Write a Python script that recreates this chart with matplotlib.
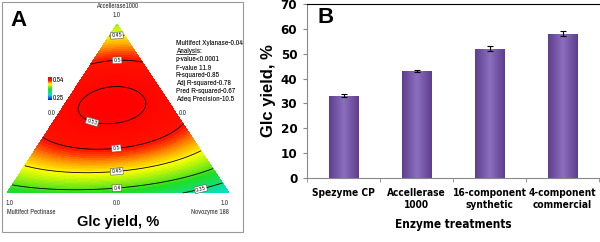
import numpy as np
import matplotlib
matplotlib.use("Agg")
import matplotlib.pyplot as plt
import matplotlib.tri as mtri
from matplotlib.colors import LinearSegmentedColormap
from matplotlib.patches import Rectangle

# ---- panel A: mixture model (Accellerase, Pectinase, Novozyme) ----
lin_coef = [0.42, 0.375, 0.31]         # pure blends: top, left, right
bin_coef = [0.50, 0.60, 0.16]          # top-left, top-right, left-right
tern_coef = 0.23
levels = [0.35, 0.40, 0.45, 0.50, 0.53]
zmin, zmax = 0.25, 0.54
stats = ["Multifect Xylanase-0.04", "Analysis:", "p-value<0.0001", "F-value 11.9",
         "R-squared-0.85", "Adj R-squared-0.78", "Pred R-squared-0.67",
         "Adeq Precision-10.5"]

# ---- panel B: bars ----
treatments = ["Spezyme CP", "Accellerase\n1000", "16-component\nsynthetic",
              "4-component\ncommercial"]
glc = [33.0, 43.1, 52.0, 58.1]
glc_err = [0.6, 0.4, 1.0, 1.0]

narrow = ["Archivo Narrow", "DejaVu Sans"]
sans = ["Liberation Sans", "DejaVu Sans"]
cond_bold = dict(family="DejaVu Sans", fontstretch="condensed", fontweight="bold")

fig = plt.figure(figsize=(6.0, 2.42), dpi=100)

# left panel drawn in pixel coordinates
ax = fig.add_axes([0, 0, 245 / 600, 1])
ax.set_xlim(0, 245)
ax.set_ylim(242, 0)
ax.axis("off")
ax.add_patch(Rectangle((2, 2), 241, 230, fill=False, ec="#999999", lw=0.8))

top, left, right = (117, 24), (7, 193), (229, 193)
n = 150
A, B = [], []
for i in range(n + 1):
    for j in range(n + 1 - i):
        A.append(i / n)
        B.append(j / n)
A = np.array(A)
B = np.array(B)
C = 1 - A - B
z = (lin_coef[0] * A + lin_coef[1] * B + lin_coef[2] * C
     + bin_coef[0] * A * B + bin_coef[1] * A * C + bin_coef[2] * B * C
     + tern_coef * A * B * C)
px = A * top[0] + B * left[0] + C * right[0]
py = A * top[1] + B * left[1] + C * right[1]
tri = mtri.Triangulation(px, py)

stops = [0.25, 0.31, 0.39, 0.45, 0.475, 0.498, 0.54]
cols = ["#1010ff", "#00e0e0", "#22dd22", "#ffff00", "#ff9900", "#ff1500", "#ff0000"]
cmap = LinearSegmentedColormap.from_list(
    "de", [((s - zmin) / (zmax - zmin), c) for s, c in zip(stops, cols)])
ax.tricontourf(tri, z, levels=np.linspace(min(z.min(), zmin), max(z.max(), zmax), 80),
               cmap=cmap, vmin=zmin, vmax=zmax)
cs = ax.tricontour(tri, z, levels=levels, colors="black", linewidths=0.6)
lab_pos = [(200, 186), (117, 189), (117, 174), (117, 57), (117, 155), (93, 119), (117, 38)]
labels = ax.clabel(cs, manual=lab_pos, fontsize=3.5, inline=False,
                   fmt=lambda v: ("%.2f" % v).rstrip("0"))
for t in labels:
    t.set_bbox(dict(facecolor="white", edgecolor="#555555", lw=0.4, pad=0.6))

# colour key
key = np.linspace(zmax, zmin, 50).reshape(-1, 1)
ax.imshow(key, cmap=cmap, extent=(48, 52, 100, 77), aspect="auto",
          vmin=zmin, vmax=zmax)
ax.text(53, 80, "%.2f" % zmax, fontsize=5, family=narrow, va="center")
ax.text(53, 98, "%.2f" % zmin, fontsize=5, family=narrow, va="center")

small = dict(fontsize=5, family=narrow, color="#333333")
ax.text(117, 6, "Accellerase1000", ha="center", va="center", **small)
ax.text(117, 15, "1.0", ha="center", va="center", **small)
ax.text(52, 113, "0.0", ha="center", va="center", **small)
ax.text(183, 113, "0.0", ha="center", va="center", **small)
ax.text(10, 203, "1.0", ha="center", va="center", **small)
ax.text(117, 203, "0.0", ha="center", va="center", **small)
ax.text(225, 203, "1.0", ha="center", va="center", **small)
ax.text(7, 212, "Multifect Pectinase", ha="left", va="center", **small)
ax.text(229, 212, "Novozyme 188", ha="right", va="center", **small)
ax.text(118, 222, "Glc yield, %", ha="center", va="center", fontsize=10.5,
        fontweight="bold", family=sans)
ax.text(10, 21, "A", fontsize=16, fontweight="bold", family=sans, va="center")

for k, s in enumerate(stats):
    ax.text(176, 43.5 + k * 8.0, s, fontsize=5.6, family=narrow, va="center",
            color="black")
ax.plot([176, 196], [54.3, 54.3], color="black", lw=0.5)

# right panel
bx = fig.add_axes([307 / 600, 64 / 242, 292 / 600, 174 / 242])
x = np.arange(len(glc))
bars = bx.bar(x, glc, width=0.41, color="#7b5aa8", edgecolor="#5a3d86", linewidth=0.6)
shade = LinearSegmentedColormap.from_list("bar", ["#5e3f8e", "#8c6ebf", "#5e3f8e"])
grad = np.linspace(0, 1, 64).reshape(1, -1)
for b in bars:
    im = bx.imshow(grad, cmap=shade, aspect="auto", zorder=b.get_zorder() + 0.1,
                   extent=(b.get_x(), b.get_x() + b.get_width(), 0, b.get_height()))
    im.set_clip_path(b)
bx.errorbar(x, glc, yerr=glc_err, fmt="none", ecolor="black", elinewidth=0.8,
            capsize=2, capthick=0.8, zorder=5)
bx.set_xlim(-0.5, 3.5)
bx.set_ylim(0, 70)
bx.set_yticks(range(0, 71, 10))
bx.set_xticks(x)
bx.set_xticklabels(treatments, fontsize=7.3, linespacing=1.3, **cond_bold)
bx.set_xticks(np.arange(-0.5, 3.6, 1), minor=True)
bx.tick_params(axis="x", which="major", length=0, pad=7)
bx.tick_params(axis="x", which="minor", length=3, color="#888888")
bx.tick_params(axis="y", length=3, color="#888888", labelsize=9.5, pad=4)
for t in bx.get_yticklabels():
    t.set_family("DejaVu Sans")
    t.set_fontstretch("condensed")
    t.set_fontweight("bold")
bx.spines["right"].set_visible(False)
bx.spines["top"].set_color("black")
bx.spines["left"].set_color("#888888")
bx.spines["bottom"].set_color("#888888")
bx.set_ylabel("Glc yield, %", fontsize=12, fontweight="bold", family=sans, labelpad=3)
bx.set_xlabel("Enzyme treatments", fontsize=8.5, labelpad=6, **cond_bold)
bx.text(0.035, 0.92, "B", transform=bx.transAxes, fontsize=16, fontweight="bold",
        family=sans, va="center")

fig.savefig("out.png", dpi=100)
